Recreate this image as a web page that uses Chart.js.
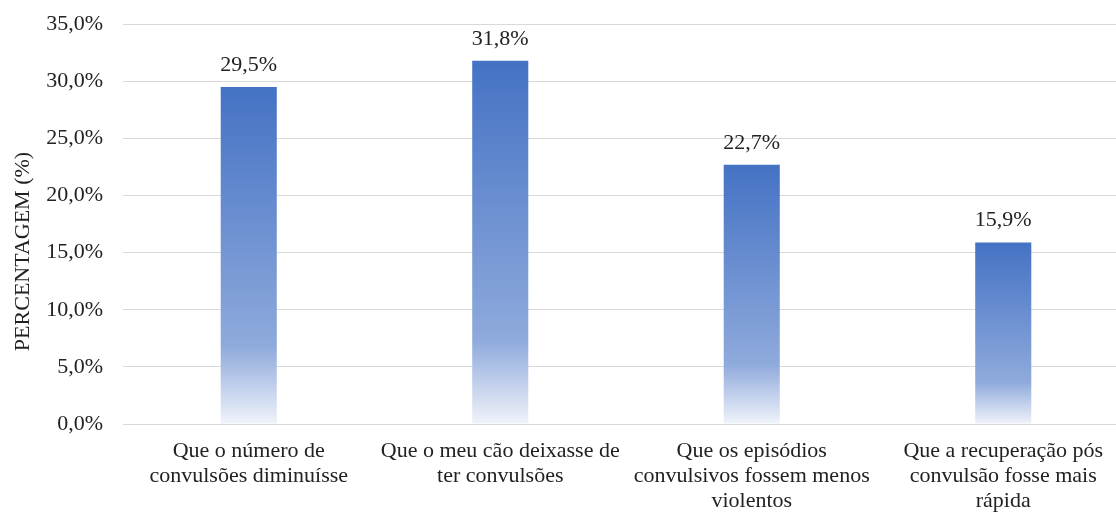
<!DOCTYPE html>
<html>
<head>
<meta charset="utf-8">
<script src="https://cdn.jsdelivr.net/npm/chart.js@4/dist/chart.umd.min.js"></script>
<style>
  html, body { margin: 0; padding: 0; background: #fff; overflow: hidden; height: 512px; }
  #wrap { position: relative; top: -9px; width: 1130px; height: 521px; }
</style>
</head>
<body>
<div id="wrap"><canvas id="grafico"></canvas></div>
<script>
var categorias = [
    ['Que o número de', 'convulsões diminuísse'],
    ['Que o meu cão deixasse de', 'ter convulsões'],
    ['Que os episódios', 'convulsivos fossem menos', 'violentos'],
    ['Que a recuperação pós', 'convulsão fosse mais', 'rápida']
];
var percentagens = [29.5, 31.8, 22.7, 15.9];
var eixoTitulo = 'PERCENTAGEM (%)';

var fonte = '"Liberation Serif", "Times New Roman", serif';
var corTexto = '#222';

function pct(v) {
    return v.toFixed(1).replace('.', ',') + '%';
}

// degradê de cada barra: azul no topo, clareando até branco na base
function corBarra(ctx) {
    var chart = ctx.chart;
    var y = chart.scales.y;
    if (!y || ctx.dataIndex === undefined) return '#4472C4';
    var topo = y.getPixelForValue(ctx.raw);
    var base = y.getPixelForValue(0);
    if (!isFinite(topo) || !isFinite(base) || topo === base) return '#4472C4';
    var g = chart.ctx.createLinearGradient(0, topo, 0, base);
    g.addColorStop(0, '#4472C4');
    g.addColorStop(0.77, '#8FAADC');
    g.addColorStop(1, '#F0F3FA');
    return g;
}

// valores por cima das barras + título do eixo y centrado na altura toda
var rotulos = {
    id: 'rotulos',
    afterDatasetsDraw: function(chart) {
        var c = chart.ctx;
        var meta = chart.getDatasetMeta(0);
        c.save();
        c.font = '22px ' + fonte;
        c.fillStyle = corTexto;
        c.textAlign = 'center';
        c.textBaseline = 'alphabetic';
        meta.data.forEach(function(bar, i) {
            c.fillText(pct(percentagens[i]), bar.x, bar.y - 16);
        });
        c.translate(23, chart.height / 2);
        c.rotate(-Math.PI / 2);
        c.textBaseline = 'middle';
        c.fillText(eixoTitulo, 0, 0);
        c.restore();
    }
};

var grafico = new Chart(document.getElementById('grafico'), {
    type: 'bar',
    data: {
        labels: categorias,
        datasets: [{
            data: percentagens,
            backgroundColor: corBarra,
            barPercentage: 0.223,
            categoryPercentage: 1
        }]
    },
    options: {
        responsive: true,
        maintainAspectRatio: false,
        animation: false,
        layout: { padding: { top: 0, right: 1, left: 0, bottom: 0 } },
        plugins: {
            legend: { display: false },
            tooltip: { enabled: false }
        },
        scales: {
            x: {
                grid: { display: false, drawTicks: false },
                border: { display: false },
                ticks: {
                    color: corTexto,
                    font: { family: fonte, size: 22, lineHeight: 1.14 },
                    padding: 15,
                    maxRotation: 0,
                    autoSkip: false
                },
                afterFit: function(s) { s.height = 88; }
            },
            y: {
                min: 0,
                max: 35,
                grid: { color: '#D9D9D9', lineWidth: 1, drawTicks: false },
                border: { display: false },
                ticks: {
                    stepSize: 5,
                    color: corTexto,
                    padding: 20,
                    font: { family: fonte, size: 22 },
                    callback: function(v) { return pct(v); }
                },
                afterFit: function(s) { s.width = 123; }
            }
        }
    },
    plugins: [rotulos]
});
// redesenha depois do layout para o degradê usar as posições finais
grafico.update();
</script>
</body>
</html>
